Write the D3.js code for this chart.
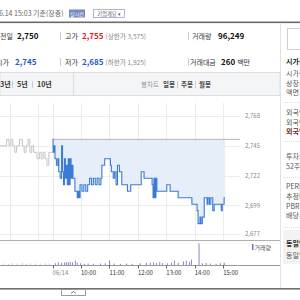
<!DOCTYPE html>
<html><head><meta charset="utf-8">
<script src="https://cdn.jsdelivr.net/npm/d3@7"></script>
<style>html,body{margin:0;padding:0;background:#fff;overflow:hidden}svg{display:block}text{font-family:"Noto Sans CJK KR","Noto Sans",sans-serif}</style>
</head><body><svg id="c" width="300" height="300"></svg>
<script>
// ---- data (minutes relative to 06/14 09:00; previous session shown before 0) ----
const prevTimes  = [-111,-97,-92,-88,-84,-80,-76,-70,-64,-60,-56,-52,-48,-44,-40,-33,-28,-24,-20,-16,-12,-8,-4,0];
const prevPrices = [2745,2750,2745,2750,2745,2740,2745,2750,2745,2740,2745,2750,2740,2745,2740,2735,2740,2735,2740,2735,2730,2740,2740,2740];
const todayTimes  = [0,1,3,5,8,11,13,16,19,21,23,25,27,29,31,33,35,37,39,41,43,47,50,52,54,56,58,62,66,70,74,78,82,86,90,94,98,102,104,110,122,124,128,131,134,137,141,146,158,165,187,193,205,210,212,214,216,218,220,241,248,265,294,298,305,307,311,313,316,320,326,328,331,334,338,341,356,358,362,364];
const todayPrices = [2750,2740,2745,2735,2730,2735,2725,2720,2745,2725,2715,2735,2720,2730,2715,2735,2715,2735,2720,2730,2720,2710,2710,2705,2710,2705,2715,2710,2715,2710,2715,2720,2715,2720,2715,2720,2715,2720,2730,2735,2730,2725,2720,2725,2715,2730,2725,2715,2710,2715,2725,2720,2720,2715,2705,2720,2705,2720,2710,2715,2710,2705,2700,2700,2695,2685,2690,2685,2690,2705,2700,2705,2700,2705,2695,2700,2695,2700,2705,2705];
const prevVolTimes  = [-105,-94,-86,-76,-65,-56,-48,-37,-27,-16,-8];
const prevVolValues = [500,400,600,500,700,400,600,500,400,600,500];
const volTimes  = [5,11,18,24,28,32,36,41,47,51,58,66,74,85,100,110,119,129,142,155,167,184,197,205,212,218,225,231,241,250,256,264,275,281,288,292,308,315,323,332,344,353,361];
const volValues = [600,900,700,800,1000,900,1100,900,1500,800,600,400,500,400,500,600,1500,500,400,500,400,600,700,800,900,700,1000,600,600,800,1500,700,1200,1400,1100,1800,7200,600,700,500,400,600,800];
const prevClose = 2750;
const priceTicks = [2677,2699,2722,2745,2768];
const priceTickLabels = ["2,677","2,699","2,722","2,745","2,768"];
const timeTicks = [0,60,120,180,240,300,360];
const timeTickLabels = ["06/14","10:00","11:00","12:00","13:00","14:00","15:00"];
const gridTimes = [-90,-30,0,60,120,180,240,300,360];
const quoteLabels = ["전일","고가","거래량","시가","저가","거래대금"];
const quoteValues = ["2,750","2,755","96,249","2,745","2,685","260"];
const quoteNotes  = ["","(상한가 3,575)","","","(하한가 1,925)","백만"];
const periodTabs = ["3년","5년","10년"];
const candleTabs = ["일봉","주봉","월봉"];
const sideLabels = ["시가총액정보","시가총액","상장주식수","액면가|매매단위","외국인한도주식수(A)","외국인보유주식수(B)","외국인소진율(B/A)","투자의견|목표주가","52주최고|최저","PER|EPS","추정PER|EPS","PBR|BPS","배당수익률","동일업종 PER","동일업종 등락률"];

// ---- drawing ----
const svg = d3.select("#c");
const x = d3.scaleLinear().domain([-111, 395.5]).range([0, 240]);
const y = d3.scaleLinear().domain([2677, 2768]).range([234, 116]);
const vy = d3.scaleLinear().domain([0, 8000]).range([265, 241]);

// header
svg.append("text").attr("x",-5).attr("y",15.5).attr("font-size",7).attr("fill","#666").text("06.14 15:03 기준(장중)");
svg.append("rect").attr("x",69).attr("y",9.5).attr("width",16).attr("height",8).attr("fill","#7489c2");
svg.append("text").attr("x",77).attr("y",15.6).attr("text-anchor","middle").attr("font-size",5).attr("fill","#fff").text("실시간");
svg.append("rect").attr("x",93.5).attr("y",9.5).attr("width",31).attr("height",8).attr("fill","#fff").attr("stroke","#9aa6c8").attr("stroke-width",0.8);
svg.append("text").attr("x",109).attr("y",15.6).attr("text-anchor","middle").attr("font-size",5.2).attr("fill","#556").text("기업개요 ▾");
svg.append("rect").attr("x",0).attr("y",21.5).attr("width",300).attr("height",1.6).attr("fill","#6b6b6b");
svg.append("line").attr("x1",280.5).attr("x2",280.5).attr("y1",23).attr("y2",289).attr("stroke","#e2e2e2");
svg.append("rect").attr("x",287.5).attr("y",28.5).attr("width",20).attr("height",21).attr("fill","#fff").attr("stroke","#d0d0d0");

// quote rows
const colX = [[0,17],[65,82],[192,218]];
const valColor = ["#111","#e0201b","#111","#1b5bc4","#1b5bc4","#111"];
quoteLabels.forEach((lab,i)=>{
  const row = Math.floor(i/3), col = i%3;
  const yy = row===0 ? 39 : 65;
  const lx = (i===3) ? -4 : (i===5 ? 190 : colX[col][0]);
  const vx = (i===3) ? 15 : (i===5 ? 221 : colX[col][1]);
  const g = svg.append("text").attr("x",lx).attr("y",yy).attr("font-size",7).attr("fill","#333");
  g.append("tspan").text(lab);
  g.append("tspan").attr("x",vx).attr("font-size",8).attr("font-weight","bold").attr("fill",valColor[i]).text(quoteValues[i]);
  if (quoteNotes[i]) g.append("tspan").attr("dx", 2).attr("font-size",i===5?7:6.6).attr("fill", i===5?"#333":"#888").text(quoteNotes[i]);
});
[60.5,188.5].forEach(sx=>{
  [32,58].forEach(sy=>svg.append("line").attr("x1",sx).attr("x2",sx).attr("y1",sy).attr("y2",sy+8).attr("stroke","#ccc"));
});

// tab band
svg.append("rect").attr("x",0).attr("y",72.5).attr("width",280).attr("height",23).attr("fill","#f4f5f7").attr("stroke","#dcdde0");
svg.append("line").attr("x1",73.5).attr("x2",73.5).attr("y1",73).attr("y2",95).attr("stroke","#dcdde0");
const ptX=[0,17,37];
periodTabs.forEach((t,i)=>svg.append("text").attr("x",ptX[i]).attr("y",87).attr("font-size",7).attr("font-weight","bold").attr("fill","#333").text(t));
[12.5,32.5].forEach(sx=>svg.append("line").attr("x1",sx).attr("x2",sx).attr("y1",81).attr("y2",88).attr("stroke","#ccc"));
svg.append("text").attr("x",141).attr("y",87).attr("font-size",6.5).attr("fill","#999").text("봉차트");
const ctX=[163,181,199];
candleTabs.forEach((t,i)=>svg.append("text").attr("x",ctX[i]).attr("y",87).attr("font-size",6.5).attr("font-weight","bold").attr("fill","#444").text(t));
[177.5,195.5].forEach(sx=>svg.append("line").attr("x1",sx).attr("x2",sx).attr("y1",81).attr("y2",88).attr("stroke","#ccc"));

// grid
svg.append("g").selectAll("line").data(priceTicks).join("line")
  .attr("x1",0).attr("x2",240).attr("y1",d=>Math.round(y(d))+0.5).attr("y2",d=>Math.round(y(d))+0.5).attr("stroke","#ececec");
svg.append("g").selectAll("line").data(gridTimes).join("line")
  .attr("x1",d=>Math.round(x(d))+0.5).attr("x2",d=>Math.round(x(d))+0.5).attr("y1",103).attr("y2",240).attr("stroke","#ececec");

// fill & lines
const today = todayTimes.map((t,i)=>({t, p: todayPrices[i]}));
const prev  = prevTimes.map((t,i)=>({t, p: prevPrices[i]}));
svg.append("path").datum(today).attr("fill","#e3ecfa").attr("opacity",0.9)
  .attr("d", d3.area().x(d=>x(d.t)).y0(y(prevClose)).y1(d=>y(d.p)).curve(d3.curveStepAfter));
svg.append("line").attr("x1",x(0)).attr("x2",240).attr("y1",y(prevClose)).attr("y2",y(prevClose)).attr("stroke","#b4b4b4").attr("stroke-width",1);
svg.append("path").datum(prev).attr("fill","none").attr("stroke","#c4c4c4").attr("stroke-width",1)
  .attr("d", d3.line().x(d=>x(d.t)).y(d=>y(d.p)).curve(d3.curveStepAfter));
svg.append("path").datum(today).attr("fill","none").attr("stroke","#3a7bd8").attr("stroke-width",1.1)
  .attr("d", d3.line().x(d=>x(d.t)).y(d=>y(d.p)).curve(d3.curveStepAfter));

// price axis labels
svg.append("g").selectAll("text").data(priceTicks).join("text")
  .attr("x",245).attr("y",d=>y(d)).attr("dy","0.35em").attr("font-size",6).attr("fill","#888")
  .text((d,i)=>priceTickLabels[i]);

// panel borders
svg.append("line").attr("x1",0).attr("x2",280).attr("y1",240.5).attr("y2",240.5).attr("stroke","#b0b0b0");
svg.append("line").attr("x1",0).attr("x2",280).attr("y1",265.5).attr("y2",265.5).attr("stroke","#999");

// volume
svg.append("g").selectAll("rect").data(prevVolTimes).join("rect")
  .attr("x",d=>x(d)).attr("width",1).attr("y",(d,i)=>vy(prevVolValues[i])).attr("height",(d,i)=>265-vy(prevVolValues[i])).attr("fill","#cfc8e6");
svg.append("g").selectAll("rect").data(volTimes).join("rect")
  .attr("x",d=>x(d)).attr("width",1).attr("y",(d,i)=>vy(volValues[i])).attr("height",(d,i)=>265-vy(volValues[i])).attr("fill","#8f84c8");
svg.append("rect").attr("x",252).attr("y",244).attr("width",1.5).attr("height",6).attr("fill","#7e6fc4");
svg.append("text").attr("x",254.5).attr("y",249.5).attr("font-size",6).attr("fill","#555").text("거래량");

// time axis
svg.append("g").selectAll("line").data(timeTicks).join("line")
  .attr("x1",d=>Math.round(x(d))+0.5).attr("x2",d=>Math.round(x(d))+0.5).attr("y1",265).attr("y2",268.5).attr("stroke","#666");
svg.append("g").selectAll("text").data(timeTicks).join("text")
  .attr("x",d=>x(d)).attr("y",275).attr("font-size",6).attr("fill",(d,i)=>i===0?"#888":"#333")
  .text((d,i)=>timeTickLabels[i]);

// bottom
svg.append("rect").attr("x",0).attr("y",288).attr("width",300).attr("height",1.6).attr("fill","#707070");
svg.append("rect").attr("x",61.5).attr("y",289.5).attr("width",24).attr("height",6).attr("fill","#fff").attr("stroke","#9a9a9a");
svg.append("path").attr("d","M71,293.5 L73.5,291.5 L76,293.5").attr("fill","none").attr("stroke","#555").attr("stroke-width",0.8);

// sidebar
const sideY = [62,74,84,93,113,123,132,157,167,187,197,207,216,244,256];
const sideBold = [0,6,13];
[102.5,141.5,177.5,227.5].forEach(sy=>svg.append("line").attr("x1",283).attr("x2",300).attr("y1",sy).attr("y2",sy).attr("stroke","#ddd").attr("stroke-dasharray","1,1"));
svg.append("rect").attr("x",283).attr("y",230).attr("width",20).attr("height",34).attr("fill","#f3f3f3");
sideLabels.forEach((s,i)=>svg.append("text").attr("x",286).attr("y",sideY[i]).attr("dy","0.35em").attr("font-size",7)
  .attr("font-weight",sideBold.includes(i)?"bold":"normal").attr("fill",i===6?"#6a2b2b":(sideBold.includes(i)?"#222":"#555")).text(s));
</script></body></html>
